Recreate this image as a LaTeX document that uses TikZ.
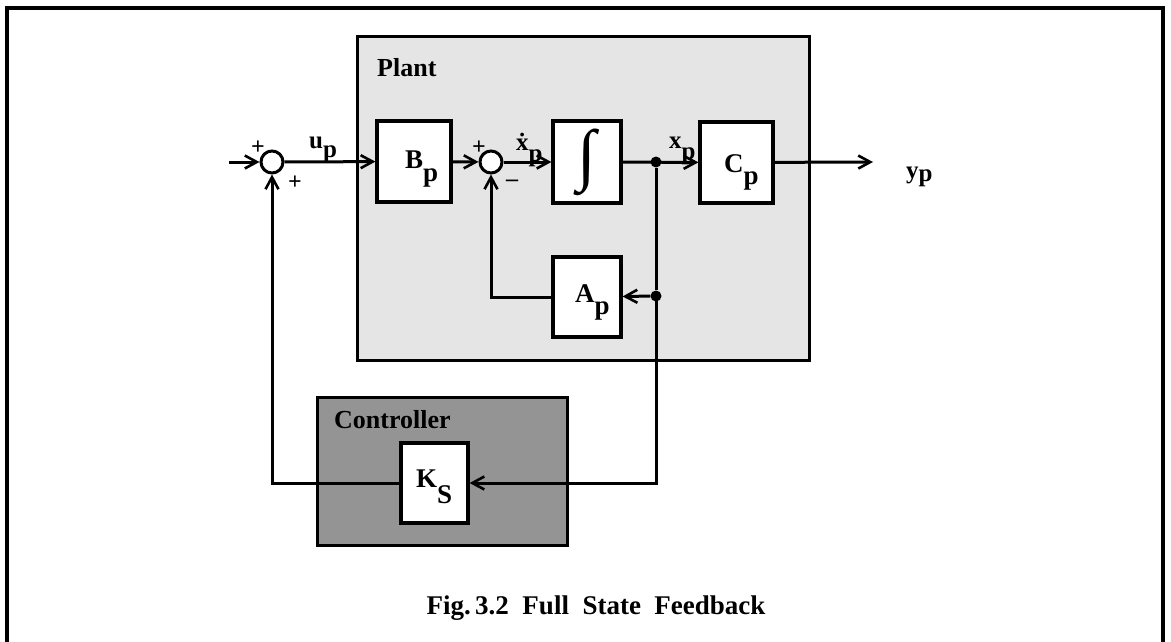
\documentclass[tikz,border=0pt]{standalone}
\usepackage{fontspec}
\setmainfont{Liberation Serif}
\usetikzlibrary{arrows.meta}
\begin{document}
\begin{tikzpicture}[x=1pt,y=-1pt,
  ln/.style={line width=3pt},
  arr/.style={ln,-{Straight Barb[length=12pt,width=13pt,line width=2.6pt]}},
  blk/.style={draw,line width=3.2pt,fill=white,inner sep=0pt},
  sumj/.style={draw,circle,line width=3pt,fill=white,minimum size=22pt,inner sep=0pt},
  jdot/.style={circle,fill=black,minimum size=11pt,inner sep=0pt},
  lab/.style={font=\bfseries\fontsize{25}{25}\selectfont,inner sep=0pt,anchor=base west},
  blab/.style={font=\bfseries\fontsize{27}{27}\selectfont,inner sep=0pt,anchor=base west},
  sgn/.style={font=\bfseries\fontsize{24}{24}\selectfont,inner sep=0pt}]
\useasboundingbox (0,0) rectangle (1171,642);
% frame
\draw[line width=3.2pt] (7,642) -- (7,8) -- (1163,8) -- (1163,642);
% groups
\draw[line width=3pt,fill=black!10] (357,37) rectangle (809,360);
\draw[line width=3pt,fill=black!42] (317,397) rectangle (567,545);
\node[lab,font=\bfseries\fontsize{26}{26}\selectfont] (plantlab) at (377,77) {Plant};
\node[lab,font=\bfseries\fontsize{26}{26}\selectfont] (ctrllab) at (334,428) {Controller};
% blocks
\node[blk,minimum width=74pt,minimum height=81pt] (Bp) at (414,161.5) {};
\node[blk,minimum width=68pt,minimum height=82pt] (int) at (587,162) {\fontsize{68}{68}\selectfont ∫};
\node[blk,minimum width=73pt,minimum height=81pt] (Cp) at (736.5,162.5) {};
\node[blk,minimum width=68pt,minimum height=80pt] (Ap) at (587,297) {};
\node[blk,minimum width=67pt,minimum height=80pt] (Ks) at (434.5,483) {};
\node[blab] (Bplab) at (405,168) {B\raisebox{-0.5em}{p}};
\node[blab] (Cplab) at (724,172) {C\raisebox{-0.45em}{p}};
\node[blab] (Aplab) at (575,302) {A\raisebox{-0.45em}{p}};
\node[blab] (Kslab) at (416,487) {K\raisebox{-0.6em}{S}};
% summing junctions and dots
\node[sumj] (s1) at (272,162) {};
\node[sumj] (s2) at (491,162) {};
\node[jdot] (j1) at (656,162) {};
\node[jdot] (j2) at (656,296) {};
\coordinate (in) at (229,162);
\coordinate (out) at (873,162);
% signs
\node[sgn] (p1) at (258,148) {+};
\node[sgn] (p2) at (295,183) {+};
\node[sgn] (p3) at (479,148) {+};
\node[sgn] (m1) at (512,183) {–};
% signal labels
\node[lab] (up) at (309,148) {u\raisebox{-0.4em}{p}};
\node[lab] (xdp) at (516,150) {\.{x}\raisebox{-0.45em}{p}};
\node[lab] (xp) at (669,148) {x\raisebox{-0.45em}{p}};
\node[lab] (yp) at (906,178) {y\raisebox{-0.12em}{p}};
% connectors
\draw[arr] (in) -- (s1);
\draw[arr] (s1) -- (Bp);
\draw[arr] (Bp) -- (s2);
\draw[arr] (s2) -- (int);
\draw[arr] (int) -- (Cp);
\draw[arr] (Cp) -- (out);
\draw[ln] (j1) -- (j2);
\draw[arr] (j2) -- (Ap);
\draw[arr] (j2.center) |- (Ks.east);
\draw[arr] (Ap.west) -| (s2.south);
\draw[arr] (Ks.west) -| (s1.south);
% caption
\node[font=\bfseries\fontsize{27}{27}\selectfont,inner sep=0pt,anchor=base] (cap) at (596,614) {Fig.\,3.2\ \ Full\ \ State\ \ Feedback};
\end{tikzpicture}
\end{document}
